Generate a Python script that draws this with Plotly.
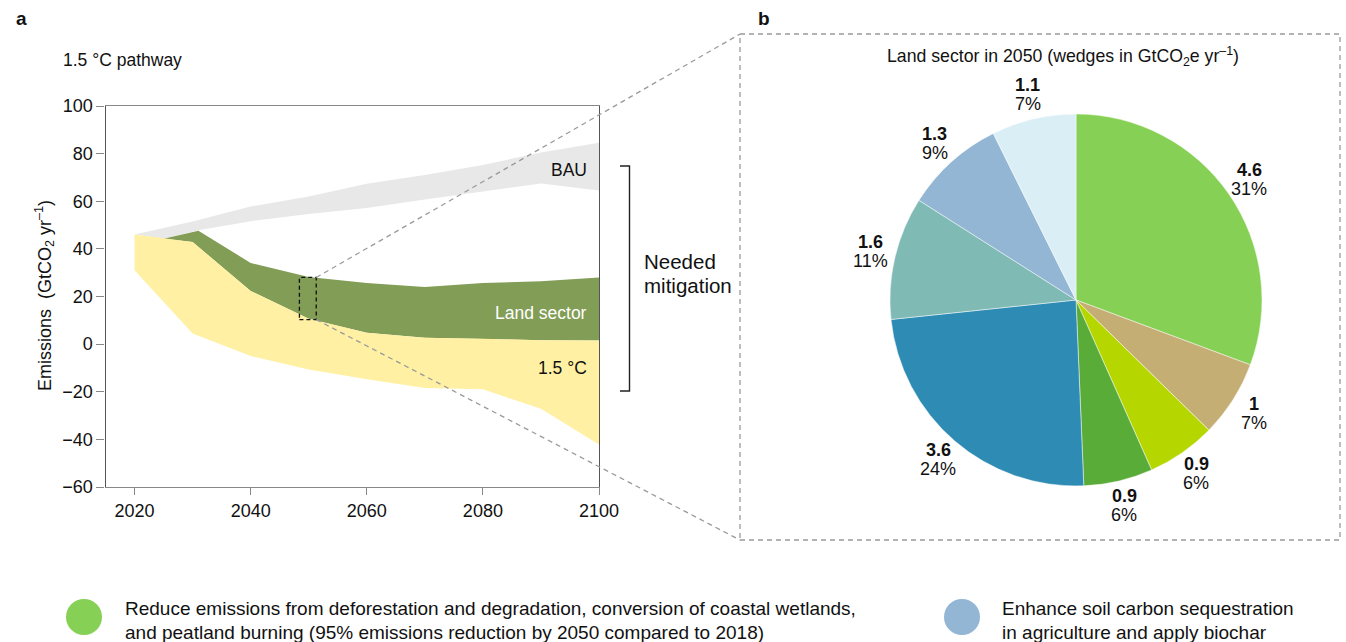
import math
import plotly.graph_objects as go

# ---------------- data: emission pathways (GtCO2 / yr) ----------------
bau_top_years = [2020, 2030, 2040, 2050, 2060, 2070, 2080, 2090, 2100]
bau_top_vals = [46, 51.5, 57.8, 62.0, 67.3, 71.0, 75.2, 80.5, 84.6]
bau_low_years = [2020, 2025, 2031, 2040, 2050, 2060, 2070, 2080, 2090, 2100]
bau_low_vals = [46, 44.3, 47.8, 51.6, 54.6, 57.2, 60.7, 64.2, 67.5, 64.5]

land_top_years = [2025, 2031, 2040, 2050, 2060, 2070, 2080, 2090, 2100]
land_top_vals = [44.3, 47.6, 34.1, 28.2, 25.7, 24.0, 25.7, 26.4, 28.0]

c15_top_years = [2020, 2025, 2030, 2040, 2050, 2060, 2070, 2080, 2090, 2100]
c15_top_vals = [46, 44.3, 42.9, 22.3, 10.7, 4.8, 2.7, 2.3, 1.6, 1.5]
c15_low_years = [2020, 2030, 2040, 2050, 2060, 2070, 2080, 2090, 2100]
c15_low_vals = [31, 4.5, -5.0, -10.7, -14.8, -18.4, -19.0, -27.1, -42.2]

x_ticks = [2020, 2040, 2060, 2080, 2100]
y_ticks = [100, 80, 60, 40, 20, 0, -20, -40, -60]

# ---------------- data: land-sector wedges in 2050 (GtCO2e / yr) ----------------
wedge_names = [
    "Reduce deforestation and degradation, coastal wetlands, peatland burning",
    "Wedge 2", "Wedge 3", "Wedge 4", "Wedge 5", "Wedge 6",
    "Enhance soil carbon sequestration and apply biochar",
    "Wedge 8",
]
wedge_values = [4.6, 1.0, 0.9, 0.9, 3.6, 1.6, 1.3, 1.1]
wedge_colors = ["#86d155", "#c4ae74", "#b6d600", "#5aac38",
                "#2e8bb3", "#7fbab5", "#92b6d4", "#daeef5"]

key_lines = [
    ["Reduce emissions from deforestation and degradation, conversion of coastal wetlands,",
     "and peatland burning (95% emissions reduction by 2050 compared to 2018)"],
    ["Enhance soil carbon sequestration",
     "in agriculture and apply biochar"],
]
key_colors = ["#86d155", "#92b6d4"]

# ---------------- layout geometry (pixel based) ----------------
W, H = 1346, 642
FONT = "Liberation Sans, Arial, Helvetica, sans-serif"
FS = 17.5
INK = "#111111"
X_RANGE = [2015, 2100]
Y_RANGE = [-60, 100]
AX_PX = (105.5, 599)     # left/right of plot area
AY_PX = (106, 487)       # top/bottom of plot area


def px_x(px):
    return px / W


def px_y(py):
    return 1 - py / H


X_DOM = [px_x(AX_PX[0]), px_x(AX_PX[1])]
Y_DOM = [px_y(AY_PX[1]), px_y(AY_PX[0])]


def data_to_paper(year, val):
    fx = (year - X_RANGE[0]) / (X_RANGE[1] - X_RANGE[0])
    fy = (val - Y_RANGE[0]) / (Y_RANGE[1] - Y_RANGE[0])
    return (X_DOM[0] + fx * (X_DOM[1] - X_DOM[0]),
            Y_DOM[0] + fy * (Y_DOM[1] - Y_DOM[0]))


def band(top_x, top_y, low_x, low_y):
    return list(top_x) + list(reversed(low_x)), list(top_y) + list(reversed(low_y))


def note(xp, yp, text, xanchor="center", size=FS, color=INK, **kw):
    """Annotation positioned in page pixels."""
    return dict(x=px_x(xp), y=px_y(yp), xref="paper", yref="paper", text=text,
                showarrow=False, xanchor=xanchor, yanchor="middle",
                font=dict(family=FONT, size=size, color=color), **kw)


fig = go.Figure()

# ---------------- panel a: pathway bands ----------------
bx, by = band(bau_top_years, bau_top_vals, bau_low_years, bau_low_vals)
fig.add_trace(go.Scatter(x=bx, y=by, fill="toself", fillcolor="#e8e8e8",
                         mode="lines", line=dict(width=0), hoverinfo="skip",
                         showlegend=False))

lx, ly = band(land_top_years, land_top_vals, c15_top_years[1:], c15_top_vals[1:])
fig.add_trace(go.Scatter(x=lx, y=ly, fill="toself", fillcolor="#829d56",
                         mode="lines", line=dict(width=0), hoverinfo="skip",
                         showlegend=False))

cx_, cy_ = band(c15_top_years, c15_top_vals, c15_low_years, c15_low_vals)
fig.add_trace(go.Scatter(x=cx_, y=cy_, fill="toself", fillcolor="#fff0a3",
                         mode="lines", line=dict(width=0), hoverinfo="skip",
                         showlegend=False))

# ---------------- panel b: pie ----------------
PIE_C = (1076, 300)
PIE_R = 186
fig.add_trace(go.Pie(
    labels=wedge_names, values=wedge_values, sort=False,
    direction="clockwise", rotation=0, textinfo="none", textposition="none",
    hoverinfo="skip",
    marker=dict(colors=wedge_colors, line=dict(color="rgba(255,255,255,0.8)", width=0.6)),
    domain=dict(x=[px_x(PIE_C[0] - PIE_R), px_x(PIE_C[0] + PIE_R)],
                y=[px_y(PIE_C[1] + PIE_R), px_y(PIE_C[1] - PIE_R)]),
    showlegend=False,
))

annotations = []

# wedge labels just outside the rim at each wedge's mid-angle
total = sum(wedge_values)
cum = 0.0
for v in wedge_values:
    ang = math.radians((cum + v / 2) / total * 360)
    cum += v
    d = PIE_R + 25
    cxl = PIE_C[0] + d * math.sin(ang)
    cyl = PIE_C[1] - d * math.cos(ang)
    annotations.append(note(cxl, cyl - 9.5, f"<b>{v:g}</b>", size=18))
    annotations.append(note(cxl, cyl + 9.5, f"{round(v / total * 100)}%", size=18))

annotations.append(note(1063, 56,
                        "Land sector in 2050 (wedges in GtCO<sub>2</sub>e yr<sup>–1</sup>)",
                        size=17.7))

# panel letters, heading and y-axis title
annotations += [
    note(14, 18, "<b>a</b>", xanchor="left", size=19),
    note(756, 18, "<b>b</b>", xanchor="left", size=19),
    note(61, 60, "1.5 °C pathway", xanchor="left"),
    note(44, 296, "Emissions  (GtCO<sub>2</sub> yr<sup>–1</sup>)", size=18, textangle=-90),
]

# band names, right aligned near the end of the axis
band_labels = [("BAU", 73, INK), ("Land sector", 13, "white"), ("1.5 °C", -10, INK)]
for txt, yv, col in band_labels:
    annotations.append(dict(x=2098.3, y=yv, xref="x", yref="y", text=txt,
                            showarrow=False, xanchor="right", yanchor="middle",
                            font=dict(family=FONT, size=FS, color=col)))

# "Needed mitigation" label
annotations.append(note(642, 262, "Needed", xanchor="left", size=20.5))
annotations.append(note(642, 286, "mitigation", xanchor="left", size=20.5))

# bottom key text
for lines, tx in zip(key_lines, [123, 1000]):
    for i, line in enumerate(lines):
        annotations.append(note(tx, 608 + 24.5 * i, line, xanchor="left", size=19))

# ---------------- shapes ----------------
shapes = []
shapes.append(dict(
    type="path", xref="paper", yref="paper",
    path=(f"M {px_x(620)},{px_y(166)} L {px_x(629.5)},{px_y(166)} "
          f"L {px_x(629.5)},{px_y(391)} L {px_x(620)},{px_y(391)}"),
    line=dict(color="#222", width=1.4)))

zoom_x = (2048.4, 2051.3)
zoom_y = (10.3, 28.0)
shapes.append(dict(type="rect", xref="x", yref="y",
                   x0=zoom_x[0], x1=zoom_x[1], y0=zoom_y[0], y1=zoom_y[1],
                   line=dict(color="#111", width=1.3, dash="4px,3px")))

B_BOX = (740, 34, 1340, 540)  # left, top, right, bottom
shapes.append(dict(type="rect", xref="paper", yref="paper",
                   x0=px_x(B_BOX[0]), x1=px_x(B_BOX[2]),
                   y0=px_y(B_BOX[3]), y1=px_y(B_BOX[1]),
                   line=dict(color="#9a9a9a", width=1.3, dash="5px,4px")))
p_top = data_to_paper(zoom_x[1], zoom_y[1])
p_bot = data_to_paper(zoom_x[1], zoom_y[0])
shapes.append(dict(type="line", xref="paper", yref="paper",
                   x0=p_top[0], y0=p_top[1], x1=px_x(B_BOX[0]), y1=px_y(B_BOX[1]),
                   line=dict(color="#9a9a9a", width=1.3, dash="5px,4px")))
shapes.append(dict(type="line", xref="paper", yref="paper",
                   x0=p_bot[0], y0=p_bot[1], x1=px_x(B_BOX[0]), y1=px_y(B_BOX[3]),
                   line=dict(color="#9a9a9a", width=1.3, dash="5px,4px")))

for col, cxp in zip(key_colors, [84, 962]):
    shapes.append(dict(type="circle", xref="paper", yref="paper",
                       x0=px_x(cxp - 18), x1=px_x(cxp + 18),
                       y0=px_y(617 + 18), y1=px_y(617 - 18),
                       fillcolor=col, line=dict(width=0)))

# fixed page geometry: no automatic margin growth for edge tick labels
fig.update_layout(
    width=W, height=H, autosize=False,
    margin=dict(l=0, r=0, t=0, b=0, autoexpand=False),
    paper_bgcolor="white", plot_bgcolor="white",
    xaxis=dict(domain=X_DOM, range=X_RANGE, tickvals=x_ticks, automargin=False,
               ticks="outside", ticklen=7, tickcolor="#888", tickwidth=1.3,
               showline=True, linecolor="#888", linewidth=1.3, mirror=True,
               showgrid=False, zeroline=False, fixedrange=True,
               tickfont=dict(family=FONT, size=18, color=INK)),
    yaxis=dict(domain=Y_DOM, range=Y_RANGE, tickvals=y_ticks, automargin=False,
               ticks="outside", ticklen=8, tickcolor="#888", tickwidth=1.3,
               showline=True, linecolor="#555", linewidth=1.3, mirror=True,
               showgrid=False, zeroline=False, fixedrange=True,
               tickfont=dict(family=FONT, size=18, color=INK)),
    annotations=annotations, shapes=shapes,
)

fig.write_html("out.html")
